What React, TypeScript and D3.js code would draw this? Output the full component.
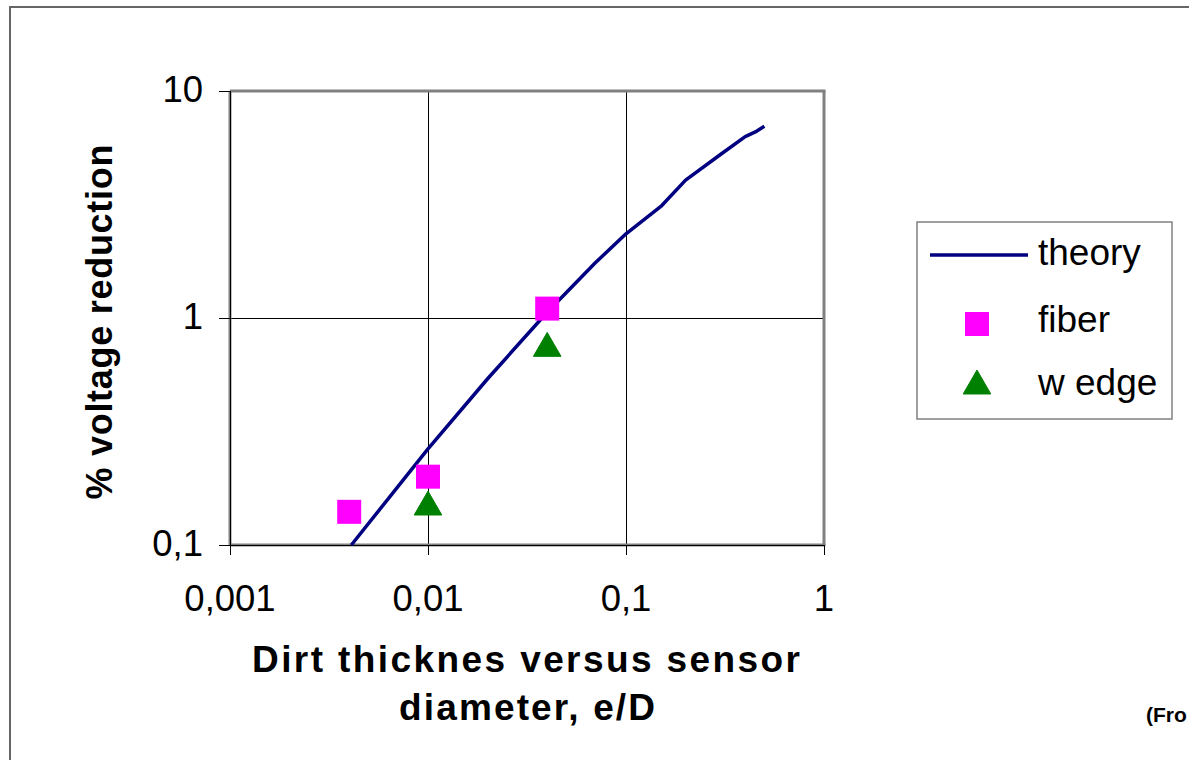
import React from "react";
import * as d3 from "d3";

const theoryX = [0.0041, 0.01, 0.02, 0.04, 0.07, 0.1, 0.15, 0.2, 0.3, 0.4, 0.45, 0.5];
const theoryY = [0.1, 0.265, 0.54, 1.06, 1.75, 2.35, 3.1, 4.05, 5.25, 6.3, 6.6, 7.0];
const fiberX = [0.004, 0.01, 0.04];
const fiberY = [0.14, 0.2, 1.1];
const wedgeX = [0.01, 0.04];
const wedgeY = [0.15, 0.75];
const xTicks = [0.001, 0.01, 0.1, 1];
const xTickLabels = ["0,001", "0,01", "0,1", "1"];
const yTicks = [0.1, 1, 10];
const yTickLabels = ["0,1", "1", "10"];
const legendLabels = ["theory", "fiber", "w edge"];

const W = 1189;
const H = 760;
const L = 230, R = 824, T = 91, B = 545;

export default function App() {
  const x = d3.scaleLog().domain([0.001, 1]).range([L, R]);
  const y = d3.scaleLog().domain([0.1, 10]).range([B, T]);
  const line = d3
    .line<number>()
    .x((_, i) => x(theoryX[i]))
    .y((d) => y(d));
  const tri = d3.symbol().type(d3.symbolTriangle).size(330)();
  const font = "'Liberation Sans', Arial, sans-serif";
  const px = (v: number) => Math.round(v) + 0.5;
  return (
    <svg
      width={W}
      height={H}
      style={{ position: "absolute", left: 0, top: 0, background: "#fff" }}
      fontFamily={font}
    >
      <rect x={10} y={7} width={1300} height={900} fill="#fff" stroke="#666" strokeWidth={2} />
      {/* grid */}
      {xTicks.slice(1, -1).map((t) => (
        <line key={"gx" + t} x1={px(x(t))} x2={px(x(t))} y1={T} y2={B} stroke="#000" strokeWidth={1} />
      ))}
      {yTicks.slice(1, -1).map((t) => (
        <line key={"gy" + t} x1={L} x2={R} y1={px(y(t))} y2={px(y(t))} stroke="#000" strokeWidth={1} />
      ))}
      {/* plot frame */}
      <line x1={L} x2={R + 1.5} y1={T} y2={T} stroke="#808080" strokeWidth={3} />
      <line x1={R} x2={R} y1={T} y2={B} stroke="#808080" strokeWidth={3} />
      <line x1={L} x2={R + 1.5} y1={B} y2={B} stroke="#808080" strokeWidth={3} />
      <line x1={L} x2={L} y1={T} y2={B} stroke="#808080" strokeWidth={3} />
      <line x1={L} x2={R} y1={px(B)} y2={px(B)} stroke="#000" strokeWidth={1} />
      <line x1={px(L)} x2={px(L)} y1={T} y2={B} stroke="#000" strokeWidth={1} />
      {/* ticks */}
      {yTicks.map((t, i) => (
        <g key={"yt" + t}>
          <line x1={L - 11} x2={L} y1={px(y(t))} y2={px(y(t))} stroke="#000" strokeWidth={1} />
          <text x={203} y={y(t) + 11} textAnchor="end" fontSize={36.5}>
            {yTickLabels[i]}
          </text>
        </g>
      ))}
      {xTicks.map((t, i) => (
        <g key={"xt" + t}>
          <line x1={px(x(t))} x2={px(x(t))} y1={B} y2={B + 10} stroke="#000" strokeWidth={1} />
          <text x={x(t)} y={611} textAnchor="middle" fontSize={36.5}>
            {xTickLabels[i]}
          </text>
        </g>
      ))}
      {/* theory line */}
      <path d={line(theoryY) || ""} fill="none" stroke="#000080" strokeWidth={3.5} strokeLinejoin="round" />
      {/* fiber */}
      {fiberX.map((v, i) => (
        <rect key={"f" + i} x={x(v) - 12} y={y(fiberY[i]) - 12} width={24} height={24} fill="#FF00FF" />
      ))}
      {/* wedge */}
      {wedgeX.map((v, i) => (
        <path key={"w" + i} d={tri || ""} transform={`translate(${x(v)},${y(wedgeY[i]) + 2})`} fill="#008000" stroke="#008000" strokeWidth={1} strokeLinejoin="round" />
      ))}
      {/* axis titles */}
      <text x={526} y={672} textAnchor="middle" fontSize={37} fontWeight="bold" textLength={548} lengthAdjust="spacing">
        Dirt thicknes versus sensor
      </text>
      <text x={527} y={720} textAnchor="middle" fontSize={37} fontWeight="bold" textLength={256} lengthAdjust="spacing">
        diameter, e/D
      </text>
      <text
        transform={`translate(112,322) rotate(-90)`}
        textAnchor="middle"
        fontSize={36}
        fontWeight="bold"
        textLength={355}
        lengthAdjust="spacing"
      >
        % voltage reduction
      </text>
      {/* legend */}
      <rect x={917} y={222} width={255} height={197} fill="#fff" stroke="#808080" strokeWidth={1.5} />
      <line x1={930} x2={1028} y1={255} y2={255} stroke="#000080" strokeWidth={3.5} />
      <rect x={965} y={312} width={24} height={24} fill="#FF00FF" />
      <path d={tri || ""} transform="translate(977,386)" fill="#008000" stroke="#008000" strokeWidth={1} strokeLinejoin="round" />
      <text x={1038} y={265} fontSize={37}>{legendLabels[0]}</text>
      <text x={1038} y={332} fontSize={37}>{legendLabels[1]}</text>
      <text x={1038} y={395} fontSize={37}>{legendLabels[2]}</text>
      <text x={1146} y={722} fontSize={21} fontWeight="bold">(Fro</text>
    </svg>
  );
}
